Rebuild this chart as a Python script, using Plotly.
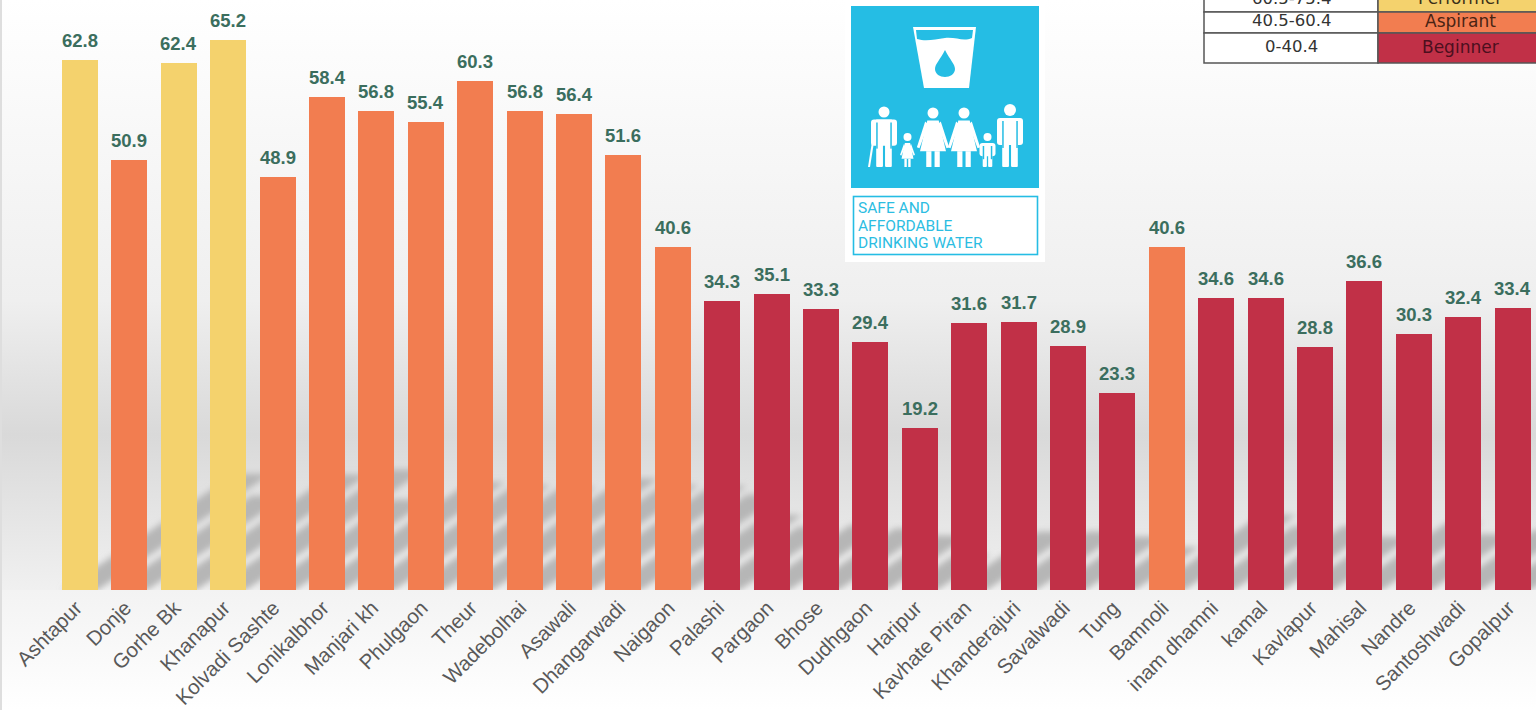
import base64
import plotly.graph_objects as go

# Chart data
villages = ['Ashtapur', 'Donje', 'Gorhe Bk', 'Khanapur', 'Kolvadi Sashte', 'Lonikalbhor', 'Manjari kh',
            'Phulgaon', 'Theur', 'Wadebolhai', 'Asawali', 'Dhangarwadi', 'Naigaon', 'Palashi', 'Pargaon',
            'Bhose', 'Dudhgaon', 'Haripur', 'Kavhate Piran', 'Khanderajuri', 'Savalwadi', 'Tung', 'Bamnoli',
            'inam dhamni', 'kamal', 'Kavlapur', 'Mahisal', 'Nandre', 'Santoshwadi', 'Gopalpur']
scores = [62.8, 50.9, 62.4, 65.2, 48.9, 58.4, 56.8, 55.4, 60.3, 56.8, 56.4, 51.6, 40.6, 34.3, 35.1,
          33.3, 29.4, 19.2, 31.6, 31.7, 28.9, 23.3, 40.6, 34.6, 34.6, 28.8, 36.6, 30.3, 32.4, 33.4]

# Legend table, the first row is cut off by the top of the picture
band_ranges = ['60.5-75.4', '40.5-60.4', '0-40.4']
band_names = ['Performer', 'Aspirant', 'Beginner']
band_floors = [60.5, 40.5, 0]
band_colors = ['#f4d26d', '#f27d50', '#c13047']
band_text = ['#3a3018', '#4a2414', '#4c0f1e']

sdg_lines = ['SAFE AND', 'AFFORDABLE', 'DRINKING WATER']

WIDTH, HEIGHT = 1536, 710
BASE_Y = 590      # pixel row of the x axis
FIRST_X = 80      # pixel centre of the first bar
STEP = 49.4       # pixels between bars
BAR_WIDTH = 0.73
PX_PER_UNIT = 8.44
CYAN = '#25bde4'


def px(x):
    return x / WIDTH


def py(y):
    # paper coordinates are relative to the plot area, which ends at the axis
    return 1 - y / BASE_Y


def bar_color(v):
    for floor, color in zip(band_floors, band_colors):
        if v >= floor:
            return color
    return band_colors[-1]


def person(cx, head_y, r, foot, w, dress=False):
    parts = [f'<circle cx="{cx}" cy="{head_y}" r="{r}"/>']
    top = head_y + r + 2
    if dress:
        hem = top + (foot - top) * 0.66
        parts.append(f'<path d="M{cx-w*0.22} {top}L{cx+w*0.22} {top}L{cx+w*0.5} {hem}L{cx-w*0.5} {hem}Z"/>')
        parts.append(f'<rect x="{cx-w*0.26}" y="{hem}" width="{w*0.2}" height="{foot-hem}"/>')
        parts.append(f'<rect x="{cx+w*0.06}" y="{hem}" width="{w*0.2}" height="{foot-hem}"/>')
        parts.append(f'<path d="M{cx-w*0.3} {top+1}L{cx-w*0.62} {hem-4}L{cx-w*0.52} {hem-3}L{cx-w*0.18} {top+4}Z"/>')
        parts.append(f'<path d="M{cx+w*0.3} {top+1}L{cx+w*0.62} {hem-4}L{cx+w*0.52} {hem-3}L{cx+w*0.18} {top+4}Z"/>')
    else:
        mid = top + (foot - top) * 0.45
        parts.append(f'<rect x="{cx-w*0.5}" y="{top}" width="{w}" height="{(foot-top)*0.55}" rx="3"/>')
        parts.append(f'<rect x="{cx-w*0.3}" y="{top}" width="{w*0.6}" height="{mid-top+2}"/>')
        parts.append(f'<rect x="{cx-w*0.3}" y="{mid}" width="{w*0.26}" height="{foot-mid}" rx="1"/>')
        parts.append(f'<rect x="{cx+w*0.04}" y="{mid}" width="{w*0.26}" height="{foot-mid}" rx="1"/>')
        parts.append(f'<rect x="{cx-w*0.3}" y="{top+3}" width="1.5" height="{(foot-top)*0.55}" fill="{CYAN}"/>')
        parts.append(f'<rect x="{cx+w*0.3-1.5}" y="{top+3}" width="1.5" height="{(foot-top)*0.55}" fill="{CYAN}"/>')
    return ''.join(parts)


def background_svg():
    # page gradient plus one slanted blurred shadow per bar, length follows the value
    shadows = []
    half = 18
    for i, v in enumerate(scores):
        left = FIRST_X + i * STEP - half
        right = FIRST_X + i * STEP + half
        dx, dy = 2.75 * v, 1.85 * v
        shadows.append(f'<polygon points="{left},{BASE_Y} {right},{BASE_Y} {right+dx},{BASE_Y-dy} {left+dx},{BASE_Y-dy}"/>')
    icon = (
        f'<rect x="845" y="0" width="200" height="262" fill="#ffffff"/>'
        f'<rect x="851" y="6" width="188" height="182" fill="{CYAN}"/>'
        f'<rect x="853.5" y="196.5" width="184" height="58" fill="#ffffff" stroke="{CYAN}" stroke-width="1.6"/>'
        '<g fill="#ffffff">'
        '<path d="M913 27L976 27L969 88L924 88Z"/>'
        f'<path d="M916 30L973 30L972 38C963 42 957 37 945 38C935 39 927 42 917 39Z" fill="{CYAN}"/>'
        f'<path d="M945 50C950 60 955 64 955 69C955 74 950 77 945 77C940 77 935 74 935 69C935 64 940 60 945 50Z" fill="{CYAN}"/>'
        + person(884, 112, 5.5, 167, 26)
        + person(907.5, 137, 4, 167, 12, dress=True)
        + person(933, 113, 5.5, 167, 26, dress=True)
        + person(964, 113, 5.5, 167, 26, dress=True)
        + person(987.5, 137, 4, 167, 16)
        + person(1010, 110, 6, 167, 26)
        + '<path d="M873 135L875 136L870 167L868 167Z"/></g>'
    )
    svg = (
        f'<svg xmlns="http://www.w3.org/2000/svg" width="{WIDTH}" height="{HEIGHT}" viewBox="0 0 {WIDTH} {HEIGHT}">'
        '<defs><linearGradient id="g" x1="0" y1="0" x2="0" y2="1">'
        f'<stop offset="0" stop-color="#ffffff"/><stop offset="{300/BASE_Y}" stop-color="#efefef"/>'
        f'<stop offset="{435/BASE_Y}" stop-color="#d9d9d9"/><stop offset="1" stop-color="#f0f0f0"/></linearGradient>'
        '<linearGradient id="h" x1="0" y1="0" x2="0" y2="1"><stop offset="0" stop-color="#f3f3f3"/>'
        '<stop offset="1" stop-color="#ffffff"/></linearGradient>'
        '<filter id="b" x="-5%" y="-5%" width="110%" height="110%"><feGaussianBlur stdDeviation="3.2"/></filter>'
        '</defs>'
        f'<rect width="{WIDTH}" height="{BASE_Y}" fill="url(#g)"/>'
        f'<g fill="#b6b6b6" filter="url(#b)">{"".join(shadows)}</g>'
        f'<rect y="{BASE_Y}" width="{WIDTH}" height="{HEIGHT-BASE_Y}" fill="url(#h)"/>'
        f'<rect width="2" height="{HEIGHT}" fill="#dedede"/>'
        + icon + '</svg>'
    )
    return 'data:image/svg+xml;base64,' + base64.b64encode(svg.encode()).decode()


fig = go.Figure()

fig.add_trace(go.Bar(
    x=list(range(len(villages))),
    y=scores,
    width=BAR_WIDTH,
    marker=dict(color=[bar_color(v) for v in scores], line=dict(width=0)),
    hoverinfo='skip'
))

annotations = []

# Value labels sit well above the bars, so annotations rather than bar text
for i, v in enumerate(scores):
    annotations.append(dict(text=f'{v:.1f}', x=i, y=v, xref='x', yref='y', yanchor='bottom', yshift=7,
                            showarrow=False,
                            font=dict(family='Liberation Sans', size=18.5, color='#3b6e5e', weight='bold')))

# Legend table cells
table_left, table_split, table_right = 1204, 1378, 1540
row_tops = [-20, 12, 33]
row_bottoms = [12, 33, 63]
row_text_y = [-2, 21, 47]
shapes = []
for i in range(len(band_ranges)):
    y0, y1 = row_tops[i], row_bottoms[i]
    shapes.append(dict(type='rect', xref='paper', yref='paper', layer='above',
                       x0=px(table_left), x1=px(table_split), y0=py(y1), y1=py(y0),
                       fillcolor='#ffffff', line=dict(color='#555555', width=1.5)))
    shapes.append(dict(type='rect', xref='paper', yref='paper', layer='above',
                       x0=px(table_split), x1=px(table_right), y0=py(y1), y1=py(y0),
                       fillcolor=band_colors[i], line=dict(color='#555555', width=1.5)))
    annotations.append(dict(text=band_ranges[i], xref='paper', yref='paper', x=px(1291), y=py(row_text_y[i]),
                            xanchor='center', yanchor='middle', showarrow=False,
                            font=dict(family='DejaVu Sans', size=16.5, color='#333333')))
    annotations.append(dict(text=band_names[i], xref='paper', yref='paper', x=px(1460), y=py(row_text_y[i]),
                            xanchor='center', yanchor='middle', showarrow=False,
                            font=dict(family='DejaVu Sans', size=17, color=band_text[i])))

# Caption under the SDG icon
for line, y in zip(sdg_lines, [208, 226, 243]):
    annotations.append(dict(text=line, xref='paper', yref='paper', x=px(856), y=py(y),
                            xanchor='left', yanchor='middle', showarrow=False,
                            font=dict(family='Roboto', size=15.5, color='#2cbde2')))

fig.update_layout(
    width=WIDTH,
    height=HEIGHT,
    margin=dict(l=0, r=0, t=0, b=HEIGHT - BASE_Y, autoexpand=False),
    paper_bgcolor='rgba(0,0,0,0)',
    plot_bgcolor='rgba(0,0,0,0)',
    showlegend=False,
    bargap=0,
    xaxis=dict(
        range=[-FIRST_X / STEP, (WIDTH - FIRST_X) / STEP],
        tickmode='array',
        tickvals=list(range(len(villages))),
        ticktext=villages,
        tickangle=-45,
        ticks='',
        ticklabelshift=-4,
        ticklabelstandoff=1,
        tickfont=dict(family='Liberation Sans', size=20.5, color='#595959'),
        showgrid=False,
        zeroline=False,
        showline=False
    ),
    yaxis=dict(range=[0, BASE_Y / PX_PER_UNIT], visible=False),
    images=[dict(source=background_svg(), xref='paper', yref='paper', x=0, y=1,
                 sizex=1, sizey=HEIGHT / BASE_Y, xanchor='left', yanchor='top',
                 sizing='stretch', layer='below')],
    shapes=shapes,
    annotations=annotations
)

fig.write_html("out.html", config=dict(displayModeBar=False), post_script="document.body.style.margin='0';")
